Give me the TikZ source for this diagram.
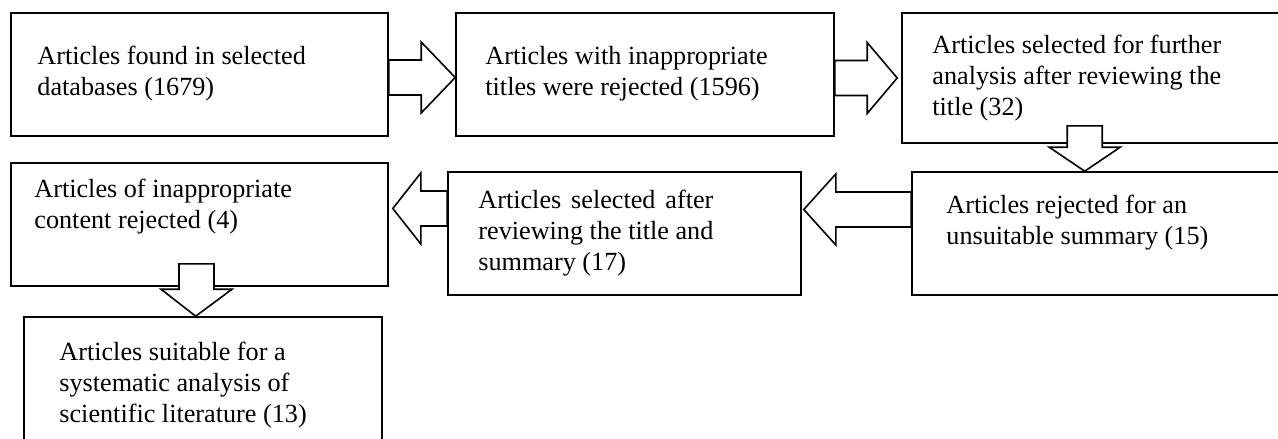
\documentclass[tikz,border=0pt]{standalone}
\usepackage{fontspec}
\usepackage{calc}
\setmainfont{Liberation Serif}
\usetikzlibrary{calc,fit}

% block-arrow dimensions (half widths of body and head)
\def\arrBody{17.5pt}
\def\arrHead{35.5pt}

% rightward block arrow: #1 start on box edge, #2 tip, #3 head length
\newcommand\rightblock[3]{%
  \draw[barrow] let \p1=(#1), \p2=(#2) in
    (\x1,\y1+\arrBody) -- (\x2-#3,\y1+\arrBody) -- (\x2-#3,\y1+\arrHead) --
    (\x2,\y2) -- (\x2-#3,\y1-\arrHead) -- (\x2-#3,\y1-\arrBody) --
    (\x1,\y1-\arrBody) -- cycle;}
% leftward block arrow
\newcommand\leftblock[3]{%
  \draw[barrow] let \p1=(#1), \p2=(#2) in
    (\x1,\y1+\arrBody) -- (\x2+#3,\y1+\arrBody) -- (\x2+#3,\y1+\arrHead) --
    (\x2,\y2) -- (\x2+#3,\y1-\arrHead) -- (\x2+#3,\y1-\arrBody) --
    (\x1,\y1-\arrBody) -- cycle;}
% downward block arrow
\newcommand\downblock[3]{%
  \draw[barrow] let \p1=(#1), \p2=(#2) in
    (\x1-\arrBody,\y1) -- (\x1+\arrBody,\y1) -- (\x1+\arrBody,\y2+#3) --
    (\x1+\arrHead,\y2+#3) -- (\x2,\y2) -- (\x1-\arrHead,\y2+#3) --
    (\x1-\arrBody,\y2+#3) -- cycle;}

\begin{document}
\begin{tikzpicture}[x=1pt,y=-1pt,
  box/.style={draw=black, line width=1.6pt, inner sep=0pt, fill=white},
  barrow/.style={draw=black, line width=1.6pt, fill=white, line join=miter},
  txt/.style={anchor=base west, inner sep=0pt, font=\fontsize{26.2}{31}\selectfont}]
  \useasboundingbox (0,0) rectangle (1278,439);
  \clip (0,0) rectangle (1278,439);
  \fill[white] (0,0) rectangle (1278,439);

  % boxes
  \node[box, fit={(11,13) (388,136)}] (b1) {};
  \node[box, fit={(456,13) (834,136)}] (b2) {};
  \node[box, fit={(902,13) (1290,143)}] (b3) {};
  \node[box, fit={(912,172) (1300,295)}] (b4) {};
  \node[box, fit={(448,172) (801,295)}] (b5) {};
  \node[box, fit={(11,163) (388,286)}] (b6) {};
  \node[box, fit={(24,317) (382,460)}] (b7) {};

  % texts
  \node[txt] (t1) at ($(b1.north west)+(27,52)$)
    {\parbox[t]{340pt}{Articles found in selected\\databases (1679)}};
  \node[txt] (t2) at ($(b2.north west)+(30,52)$)
    {\parbox[t]{340pt}{Articles with inappropriate\\titles were rejected (1596)}};
  \node[txt] (t3) at ($(b3.north west)+(31,41)$)
    {\parbox[t]{340pt}{Articles selected for further\\analysis after reviewing the\\title (32)}};
  \node[txt] (t4) at ($(b4.north west)+(35,42)$)
    {\parbox[t]{340pt}{Articles rejected for an\\unsuitable summary (15)}};
  \node[txt] (t5) at ($(b5.north west)+(31,37)$)
    {\parbox[t]{320pt}{\makebox[\widthof{reviewing the title and}][s]{Articles selected after}\\reviewing the title and\\summary (17)}};
  \node[txt] (t6) at ($(b6.north west)+(24,35)$)
    {\parbox[t]{340pt}{Articles of inappropriate\\content rejected (4)}};
  \node[txt] (t7) at ($(b7.north west)+(36,44)$)
    {\parbox[t]{320pt}{Articles suitable for a\\systematic analysis of\\scientific literature (13)}};

  % block arrows
  \rightblock{$(b1.east)+(0,3)$}{$(b2.west)+(0,3)$}{34pt}
  \rightblock{$(b2.east)+(0,3.5)$}{$(b3.west)+(-4,0)$}{30pt}
  \downblock{$(b3.south west)+(183.5,-18)$}{$(b4.north west)+(173.5,0)$}{24pt}
  \leftblock{$(b4.west)+(0,-24)$}{$(b5.east)+(2,-24)$}{32pt}
  \leftblock{$(b5.west)+(0,-25)$}{$(b6.east)+(4,-16)$}{28pt}
  \downblock{$(b6.south)+(-3,-23)$}{$(b7.north west)+(172.5,0)$}{27pt}
\end{tikzpicture}
\end{document}
